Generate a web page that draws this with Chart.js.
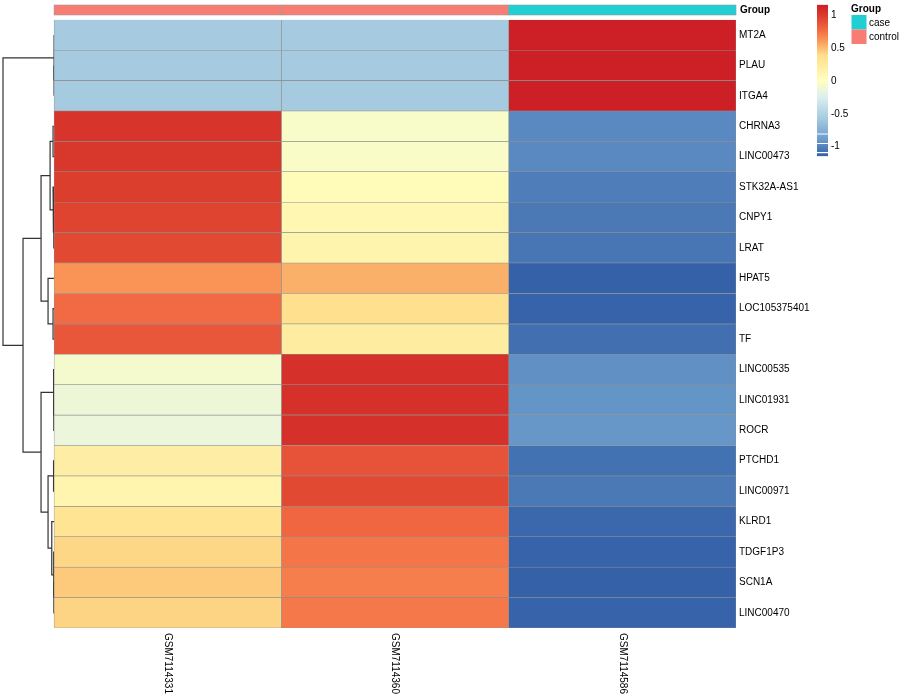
<!DOCTYPE html>
<html><head><meta charset="utf-8">
<script src="https://cdn.jsdelivr.net/npm/chart.js@4/dist/chart.umd.min.js"></script>
<style>html,body{margin:0;padding:0;background:#fff}#wrap{width:900px;height:700px;position:relative}</style>
</head><body><div id="wrap"><canvas id="c" width="900" height="700"></canvas></div>
<script>
// ---------------- data ----------------
const genes = ['MT2A','PLAU','ITGA4','CHRNA3','LINC00473','STK32A-AS1','CNPY1','LRAT','HPAT5','LOC105375401','TF','LINC00535','LINC01931','ROCR','PTCHD1','LINC00971','KLRD1','TDGF1P3','SCN1A','LINC00470'];
const samples = ['GSM7114331','GSM7114360','GSM7114586'];
const sampleGroups = ['control','control','case'];
const groupLevels = ['case','control'];
const GSM7114331 = [-0.577,-0.577,-0.577, 1.03, 1.02, 0.98, 0.95, 0.93, 0.62, 0.77, 0.86, -0.08, -0.13, -0.14, 0.20, 0.12, 0.33, 0.41, 0.45, 0.42];
const GSM7114360 = [-0.577,-0.577,-0.577, -0.05, -0.04, 0.05, 0.10, 0.13, 0.53, 0.37, 0.23, 1.05, 1.06, 1.06, 0.88, 0.93, 0.79, 0.73, 0.70, 0.72];
const GSM7114586 = [1.155, 1.155, 1.155, -0.98, -0.98, -1.03, -1.05, -1.06, -1.15, -1.14, -1.09, -0.95, -0.93, -0.92, -1.08, -1.05, -1.12, -1.14, -1.15, -1.14];
const colorbarTicks = [1, 0.5, 0, -0.5, -1];
// row dendrogram, hclust-style merges (negative = leaf number in display order, positive = earlier merge)
const mergeLeft   = [-2, -1, -7, -6, -4, 5, -10, -9, 6, -13, -12, -15, -19, -18, -17, 12, 11, 9, 2];
const mergeRight  = [-3,  1, -8,  3, -5, 4, -11,  7, 8, -14,  10, -16, -20,  13,  14, 15, 16, 17, 18];
const mergeHeight = [0.0, 0.0, 0.017, 0.066, 0.066, 0.257, 0.066, 0.389, 0.842, 0.017, 0.033, 0.033, 0.013, 0.026, 0.149, 0.389, 0.842, 2.006, 3.300];

// ---------------- styling helpers ----------------
const columnValues = [GSM7114331, GSM7114360, GSM7114586];
const vMax = 1.1547;
const rampStops = [[-1.1547,'#3360a7'],[-0.9,'#6b9ccb'],[-0.577,'#a6cbe0'],[-0.25,'#ddefef'],[0,'#ffffbf'],[0.385,'#fedf8c'],[0.6,'#fa9a58'],[0.77,'#f26a43'],[1.0,'#da3a2c'],[1.1547,'#cc1f26']];
function hex2rgb(h){return [parseInt(h.substr(1,2),16),parseInt(h.substr(3,2),16),parseInt(h.substr(5,2),16)];}
function colorFor(v){
  if (v <= rampStops[0][0]) return rampStops[0][1];
  for (let i=1;i<rampStops.length;i++){
    if (v <= rampStops[i][0]){
      const [v0,c0]=rampStops[i-1],[v1,c1]=rampStops[i];
      const t=(v-v0)/(v1-v0), a=hex2rgb(c0), b=hex2rgb(c1);
      return 'rgb('+a.map((x,k)=>Math.round(x+(b[k]-x)*t)).join(',')+')';
    }
  }
  return rampStops[rampStops.length-1][1];
}
const groupColors = {case:'#1fcfd3', control:'#f77d73'};
const FONT = "'Liberation Sans', Arial, Helvetica, sans-serif";
const dendroSpan = 0.2247; // width of dendrogram area in column units

// ---------------- dendrogram datasets ----------------
const nodeY = [], nodeH = [];
function posOf(k){ return k < 0 ? {y: -k-1, h: 0} : {y: nodeY[k-1], h: nodeH[k-1]}; }
const hMax = Math.max(...mergeHeight);
const hx = h => -h / hMax * dendroSpan;
const dendroDatasets = [];
mergeLeft.forEach((l, i) => {
  const a = posOf(l), b = posOf(mergeRight[i]);
  nodeY.push((a.y + b.y) / 2); nodeH.push(mergeHeight[i]);
  dendroDatasets.push({
    type: 'line', indexAxis: 'x',
    data: [{x: hx(a.h), y: a.y}, {x: hx(mergeHeight[i]), y: a.y}, {x: hx(mergeHeight[i]), y: b.y}, {x: hx(b.h), y: b.y}],
    borderColor: '#333333', borderWidth: 1.2, pointRadius: 0, fill: false, tension: 0, clip: false
  });
});

const barDatasets = samples.map((s, c) => ({
  type: 'bar', label: s,
  data: columnValues[c].map((v, r) => ({x: [c, c + 1], y: r})),
  backgroundColor: columnValues[c].map(colorFor),
  borderColor: '#8f8f8f', borderWidth: 0.6, borderSkipped: false,
  barPercentage: 1, categoryPercentage: 1, grouped: false
}));

// ---------------- decorations ----------------
const decor = {
  id: 'decor',
  afterDraw(chart) {
    const ctx = chart.ctx, xs = chart.scales.x, ys = chart.scales.y;
    ctx.save();
    // annotation bar
    samples.forEach((s, c) => {
      const x0 = xs.getPixelForValue(c), x1 = xs.getPixelForValue(c + 1);
      ctx.fillStyle = groupColors[sampleGroups[c]];
      ctx.fillRect(x0, 5, x1 - x0, 10);
      ctx.strokeStyle = '#9a9a9a'; ctx.lineWidth = 0.6;
      ctx.strokeRect(x0, 5, x1 - x0, 10);
    });
    ctx.fillStyle = '#000'; ctx.textBaseline = 'middle'; ctx.textAlign = 'left';
    ctx.font = 'bold 10px ' + FONT;
    ctx.fillText('Group', xs.right + 4, 10.5);
    // column labels, rotated
    ctx.font = '10px ' + FONT;
    samples.forEach((s, c) => {
      const xc = xs.getPixelForValue(c + 0.5);
      ctx.save(); ctx.translate(xc, ys.bottom + 5); ctx.rotate(Math.PI / 2);
      ctx.fillText(s, 0, 0); ctx.restore();
    });
    // colour bar
    const cbX = 817, cbW = 11, cb0 = 80.5, cbK = 65.5;
    const yCb = v => cb0 - v * cbK;
    const g = ctx.createLinearGradient(0, yCb(vMax), 0, yCb(-vMax));
    rampStops.forEach(([v, col]) => g.addColorStop((vMax - v) / (2 * vMax), col));
    ctx.fillStyle = g;
    ctx.fillRect(cbX, yCb(vMax), cbW, yCb(-vMax) - yCb(vMax));
    ctx.fillStyle = '#fff';
    ctx.fillRect(cbX, 133.5, cbW, 1); ctx.fillRect(cbX, 143, cbW, 1); ctx.fillRect(cbX, 152, cbW, 1.2);
    ctx.fillStyle = '#000'; ctx.font = '10px ' + FONT;
    colorbarTicks.forEach(t => ctx.fillText(String(t), 831, yCb(t) + 0.5));
    // group legend
    ctx.font = 'bold 10px ' + FONT;
    ctx.fillText('Group', 851, 9.5);
    ctx.font = '10px ' + FONT;
    groupLevels.forEach((gname, i) => {
      const y0 = 15 + i * 14.5;
      ctx.fillStyle = groupColors[gname];
      ctx.fillRect(851.5, y0, 15, 14.5);
      ctx.fillStyle = '#000';
      ctx.fillText(gname, 869, y0 + 8);
    });
    ctx.restore();
  }
};

new Chart(document.getElementById('c').getContext('2d'), {
  type: 'bar',
  data: { datasets: [...barDatasets, ...dendroDatasets] },
  options: {
    responsive: false, animation: false, indexAxis: 'y',
    layout: { padding: { top: 19.8, bottom: 72, left: 3, right: 0 } },
    plugins: { legend: { display: false }, tooltip: { enabled: false } },
    scales: {
      x: { type: 'linear', min: -dendroSpan, max: samples.length, display: false, offset: false },
      y: {
        type: 'linear', min: -0.5, max: genes.length - 0.5, reverse: true, position: 'right', offset: false,
        afterBuildTicks: s => { s.ticks = genes.map((g, i) => ({ value: i })); },
        afterFit: s => { s.width = 164; },
        ticks: { callback: v => genes[v], font: { family: FONT, size: 10 }, color: '#000', padding: 3, autoSkip: false },
        grid: { display: false, drawTicks: false, offset: false }, border: { display: false }
      }
    }
  },
  plugins: [decor]
});
</script></body></html>
